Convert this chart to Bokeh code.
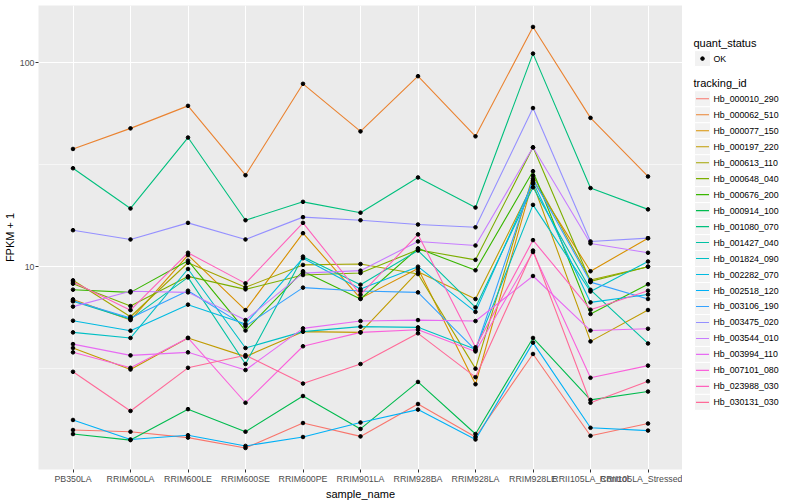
import math
from bokeh.plotting import figure
from bokeh.layouts import row
from bokeh.models import Range1d, FixedTicker, BasicTickFormatter
from bokeh.embed import file_html
from bokeh.resources import INLINE
from bokeh.core.properties import value

FONT = "Liberation Sans"

sample_names = ["PB350LA", "RRIM600LA", "RRIM600LE", "RRIM600SE", "RRIM600PE",
                "RRIM901LA", "RRIM928BA", "RRIM928LA", "RRIM928LE",
                "RRII105LA_Control", "RRII105LA_Stressed"]

tracking_ids = ["Hb_000010_290", "Hb_000062_510", "Hb_000077_150", "Hb_000197_220",
                "Hb_000613_110", "Hb_000648_040", "Hb_000676_200", "Hb_000914_100",
                "Hb_001080_070", "Hb_001427_040", "Hb_001824_090", "Hb_002282_070",
                "Hb_002518_120", "Hb_003106_190", "Hb_003475_020", "Hb_003544_010",
                "Hb_003994_110", "Hb_007101_080", "Hb_023988_030", "Hb_030131_030"]

quant_status = ["OK"]

# FPKM + 1 per sample (order of sample_names)
hb_000010_290 = [1.58, 1.55, 1.45, 1.29, 1.71, 1.47, 2.12, 1.46, 3.73, 1.48, 1.70]
hb_000062_510 = [37.8, 47.7, 61.5, 28.1, 78.9, 46.1, 86.0, 43.6, 150.0, 53.7, 27.7]
hb_000077_150 = [6.91, 5.47, 11.4, 6.12, 14.6, 6.99, 9.8, 2.65, 26.5, 9.5, 13.8]
hb_000197_220 = [3.99, 3.13, 4.47, 3.62, 4.80, 4.76, 9.45, 6.94, 25.5, 4.30, 6.13]
hb_000613_110 = [8.57, 5.68, 10.45, 7.92, 10.2, 10.3, 9.2, 3.16, 28.0, 8.6, 10.0]
hb_000648_040 = [8.25, 6.41, 8.96, 7.74, 9.1, 9.31, 12.1, 10.8, 38.5, 8.47, 10.0]
hb_000676_200 = [7.71, 7.48, 10.7, 4.86, 9.5, 6.94, 12.3, 9.6, 29.4, 5.86, 8.2]
hb_000914_100 = [1.51, 1.41, 2.0, 1.55, 2.32, 1.60, 2.72, 1.51, 4.47, 2.22, 2.44]
hb_001080_070 = [30.4, 19.3, 43.0, 16.9, 20.8, 18.4, 27.4, 19.5, 111.0, 24.3, 19.1]
hb_001427_040 = [6.76, 5.53, 8.86, 3.33, 11.2, 8.16, 12.0, 6.31, 24.5, 7.7, 4.2]
hb_001824_090 = [4.76, 4.47, 9.74, 3.99, 4.80, 5.08, 5.04, 3.93, 20.1, 7.55, 10.6]
hb_002282_070 = [5.43, 4.85, 6.51, 5.23, 11.0, 7.77, 10.0, 6.0, 26.0, 6.68, 7.3]
hb_002518_120 = [1.77, 1.42, 1.49, 1.32, 1.46, 1.72, 1.99, 1.42, 4.24, 1.62, 1.57]
hb_003106_190 = [6.8, 5.6, 7.62, 5.11, 7.89, 7.6, 7.48, 3.9, 27.0, 8.4, 6.94]
hb_003475_020 = [15.1, 13.6, 16.4, 13.6, 17.5, 16.9, 16.1, 15.6, 60.0, 13.3, 13.8]
hb_003544_010 = [6.37, 7.57, 7.48, 5.47, 9.3, 9.56, 13.3, 12.7, 38.5, 13.0, 11.7]
hb_003994_110 = [4.17, 3.67, 3.80, 3.11, 4.98, 5.41, 5.47, 5.41, 9.0, 4.86, 4.96]
hb_007101_080 = [3.80, 3.19, 4.47, 2.15, 4.07, 4.76, 4.9, 3.84, 11.8, 2.85, 3.27]
hb_023988_030 = [8.41, 6.12, 11.7, 8.28, 16.4, 7.29, 14.4, 4.02, 13.5, 6.15, 7.62]
hb_030131_030 = [3.05, 1.96, 3.19, 3.68, 2.67, 3.33, 4.71, 2.87, 12.0, 2.15, 2.74]

series = [hb_000010_290, hb_000062_510, hb_000077_150, hb_000197_220, hb_000613_110,
          hb_000648_040, hb_000676_200, hb_000914_100, hb_001080_070, hb_001427_040,
          hb_001824_090, hb_002282_070, hb_002518_120, hb_003106_190, hb_003475_020,
          hb_003544_010, hb_003994_110, hb_007101_080, hb_023988_030, hb_030131_030]


def hcl_to_hex(h, c=100.0, l=65.0):
    hr = math.radians(h)
    u = c * math.cos(hr)
    v = c * math.sin(hr)
    Xn, Yn, Zn = 95.047, 100.0, 108.883
    den = Xn + 15 * Yn + 3 * Zn
    un, vn = 4 * Xn / den, 9 * Yn / den
    Y = Yn * ((l + 16) / 116) ** 3
    up = u / (13 * l) + un
    vp = v / (13 * l) + vn
    X = Y * 9 * up / (4 * vp)
    Z = Y * (12 - 3 * up - 20 * vp) / (4 * vp)
    X, Y, Z = X / 100, Y / 100, Z / 100
    r = 3.240479 * X - 1.537150 * Y - 0.498535 * Z
    g = -0.969256 * X + 1.875992 * Y + 0.041556 * Z
    b = 0.055648 * X - 0.204043 * Y + 1.057311 * Z

    def gam(t):
        t = max(0.0, min(1.0, t))
        t = 12.92 * t if t <= 0.0031308 else 1.055 * t ** (1 / 2.4) - 0.055
        return int(round(255 * t))
    return "#%02X%02X%02X" % (gam(r), gam(g), gam(b))


n = len(tracking_ids)
colors = [hcl_to_hex(15 + 360.0 * i / n) for i in range(n)]

xs = list(range(1, len(sample_names) + 1))

TOP, FRAME_H, BOTTOM = 5, 464, 28
TOTAL_H = TOP + FRAME_H + BOTTOM

p = figure(frame_width=644, frame_height=FRAME_H,
           x_range=Range1d(0.4, len(sample_names) + 0.6),
           y_range=Range1d(1.0115, 191.1), y_axis_type="log",
           output_backend="svg", toolbar_location=None,
           min_border_left=32, min_border_right=0, min_border_top=TOP,
           min_border_bottom=BOTTOM,
           background_fill_color="#EBEBEB", border_fill_color="white",
           outline_line_color=None)

p.xaxis.ticker = FixedTicker(ticks=xs)
p.xaxis.major_label_overrides = {x: s for x, s in zip(xs, sample_names)}
p.yaxis.ticker = FixedTicker(ticks=[10, 100])
p.yaxis.formatter = BasicTickFormatter()
p.yaxis.major_label_overrides = {10: "10", 100: "100"}

p.xgrid.ticker = FixedTicker(ticks=xs)
p.ygrid.ticker = FixedTicker(ticks=[10, 100], minor_ticks=[10 ** 0.5, 10 ** 1.5])
for g in (p.xgrid, p.ygrid):
    g.grid_line_color = "white"
    g.grid_line_width = 1.1
p.ygrid.minor_grid_line_color = "white"
p.ygrid.minor_grid_line_width = 0.55

for ax in (p.xaxis, p.yaxis):
    ax.axis_line_color = None
    ax.major_tick_line_color = "#333333"
    ax.major_tick_in = 0
    ax.major_tick_out = 3
    ax.minor_tick_line_color = None
    ax.major_label_text_color = "#4D4D4D"
    ax.major_label_text_font = FONT
    ax.major_label_text_font_size = "8.8px"
    ax.major_label_standoff = 1
    ax.axis_label_text_font = FONT
    ax.axis_label_text_font_size = "11px"
    ax.axis_label_text_font_style = "normal"
    ax.axis_label_text_color = "black"
    ax.axis_label_standoff = 1

p.xaxis.axis_label = "sample_name"
p.yaxis.axis_label = "FPKM + 1"

for vals, col in zip(series, colors):
    p.line(xs, vals, line_color=col, line_width=1.1)
for vals in series:
    p.scatter(xs, vals, size=3.6, color="black")

# legend panel drawn as its own figure (pixel coordinates, y downwards)
lg = figure(width=108, height=TOTAL_H, x_range=Range1d(0, 108),
            y_range=Range1d(TOTAL_H, 0),
            output_backend="svg", toolbar_location=None, min_border=0,
            x_axis_location=None, y_axis_location=None,
            outline_line_color=None, background_fill_color="white",
            border_fill_color="white")
lg.grid.visible = False

key_x0, key_w, key_h = 12.0, 16.0, 17.3
lg.text([11], [41], text=["quant_status"], text_font=value(FONT), text_font_size="11px",
        text_color="black", text_baseline="middle", text_align="left")
ok_y = [57.5 + i * key_h for i in range(len(quant_status))]
lg.rect([key_x0 + key_w / 2] * len(ok_y), ok_y, width=key_w, height=key_h,
        fill_color="#F2F2F2", line_color="white", line_width=1)
lg.scatter([key_x0 + key_w / 2] * len(ok_y), ok_y, size=3.6, color="black")
lg.text([31] * len(ok_y), ok_y, text=quant_status, text_font=value(FONT),
        text_font_size="8.8px", text_color="black", text_baseline="middle")

lg.text([11], [84], text=["tracking_id"], text_font=value(FONT), text_font_size="11px",
        text_color="black", text_baseline="middle", text_align="left")
item_y = [101.0 + i * key_h for i in range(n)]
lg.rect([key_x0 + key_w / 2] * n, item_y, width=key_w, height=key_h,
        fill_color="#F2F2F2", line_color="white", line_width=1)
lg.segment(x0=[key_x0 + 1.5] * n, y0=item_y, x1=[key_x0 + key_w - 1.5] * n, y1=item_y,
           line_color=colors, line_width=1.1)
lg.text([31] * n, item_y, text=tracking_ids, text_font=value(FONT),
        text_font_size="8.8px", text_color="black", text_baseline="middle")

layout = row(p, lg)
open("out.html", "w").write(file_html(layout, INLINE))
